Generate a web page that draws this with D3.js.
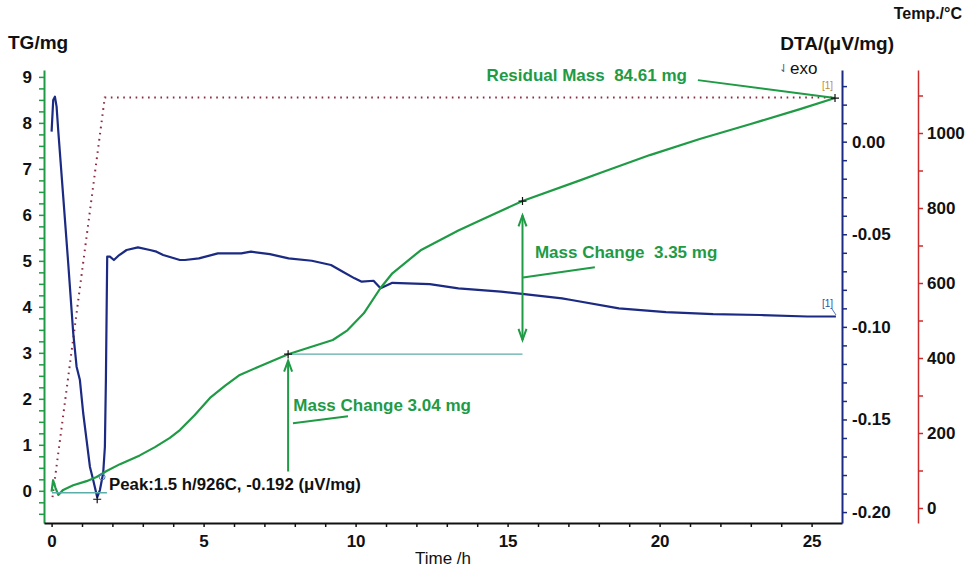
<!doctype html>
<html>
<head>
<meta charset="utf-8">
<title>TG / DTA / Temperature vs time</title>
<style>
  body { margin: 0; background: #fff; }
  svg { display: block; font-family: "Liberation Sans", Arial, sans-serif; }
</style>
</head>
<body>
<svg width="976" height="568"></svg>
<script src="https://d3js.org/d3.v7.min.js"></script>
<script>
// ---- data ----
var tgTime = [0, 0.05, 0.13, 0.22, 0.38, 0.71, 1.15, 1.48, 1.81, 2.25, 2.90, 3.40, 3.89, 4.22, 4.71, 5.21, 5.70, 6.19, 6.85, 7.78,
  8.50, 9.25, 9.73, 10.27, 10.82, 11.21, 12.14, 13.38, 14.09, 15.49, 17.38, 18.04, 19.68, 21.32, 22.97, 24.62, 25.77];
var tgMass = [-0.02, 0.23, 0.06, -0.09, 0.02, 0.12, 0.21, 0.30, 0.43, 0.58, 0.77, 0.95, 1.15, 1.32, 1.65, 2.02, 2.28, 2.52, 2.71, 2.97,
  3.12, 3.28, 3.49, 3.86, 4.41, 4.73, 5.23, 5.66, 5.88, 6.30, 6.75, 6.91, 7.30, 7.65, 7.97, 8.30, 8.54];

var dtaTime = [0, 0.053, 0.109, 0.164, 0.217, 0.382, 0.546, 0.711, 0.822, 0.931, 1.039, 1.151, 1.26, 1.368, 1.5, 1.589, 1.697, 1.753,
  1.786, 1.829, 1.918, 2.049, 2.19, 2.467, 2.84, 3.234, 3.45, 3.67, 4.22, 4.385, 4.845, 5.47, 6.24, 6.556, 7.18, 7.796, 8.56, 9.19,
  9.58, 9.967, 10.2, 10.59, 10.82, 11.21, 12.44, 13.38, 14.78, 15.55, 16.79, 17.1, 18.66, 20.21, 21.76, 23.3, 24.86, 25.8];
var dtaValue = [0.0054, 0.0225, 0.0243, 0.0189, 0.0063, -0.0297, -0.0655, -0.1033, -0.1215, -0.1287, -0.1465, -0.1611, -0.1755,
  -0.1827, -0.192, -0.1881, -0.1789, -0.1647, -0.1287, -0.0621, -0.0621, -0.0639, -0.0617, -0.0585, -0.0571, -0.0585, -0.0594,
  -0.0612, -0.0639, -0.0639, -0.063, -0.0603, -0.0603, -0.0594, -0.0607, -0.063, -0.0643, -0.0666, -0.0702, -0.0738, -0.0756,
  -0.0751, -0.0792, -0.0762, -0.0769, -0.0792, -0.081, -0.0823, -0.0846, -0.0855, -0.09, -0.092, -0.0931, -0.0936, -0.0944, -0.0944];

var tempTime = [0.03, 1.75, 25.77];
var tempValue = [29, 1095, 1095];

// tick values
var tgTicks = d3.range(-2, 37).map(function(i) { return i / 4; });
var dtaTicks = d3.range(-20, 4).map(function(i) { return i / 100; });
var tempTicks = d3.range(0, 12).map(function(i) { return i * 100; });
var timeTicks = d3.range(0, 26);

// annotations (time h, mass mg)
var crossTime = [7.78, 15.49, 25.77];
var crossMass = [2.97, 6.30, 8.54];
var peakTime = 1.5, peakDta = -0.192;

var svg = d3.select("svg");
var green = "#1f9a45", navy = "#1b2a82", red = "#cc2b2b", teal = "#5aaea8", maroon = "#8c2a40";

var x = d3.scaleLinear().domain([-0.25, 26]).range([44, 842]);
var yTG = d3.scaleLinear().domain([-0.7, 9.15]).range([523, 70]);
var yDTA = d3.scaleLinear().domain([-0.2059, 0.0387]).range([523, 70]);
var yT = d3.scaleLinear().domain([-40, 1168]).range([523, 70]);

function styleAxis(g, col, w) {
  g.select(".domain").attr("stroke", col).attr("stroke-width", w);
  g.selectAll(".tick line").attr("stroke", col).attr("stroke-width", 1.5);
  g.selectAll(".tick text").attr("fill", "#111").attr("font-size", 17).attr("font-weight", "bold")
    .attr("font-family", "'Liberation Sans', Arial, sans-serif");
}

// left TG axis
var gL = svg.append("g").attr("transform", "translate(44,0)")
  .call(d3.axisLeft(yTG).tickValues(tgTicks).tickSize(5).tickSizeOuter(0).tickPadding(7)
    .tickFormat(function(d) { return d % 1 === 0 ? d : ""; }));
styleAxis(gL, green, 2);

// bottom time axis
var gB = svg.append("g").attr("transform", "translate(0,523)")
  .call(d3.axisBottom(x).tickValues(timeTicks).tickSize(4).tickSizeOuter(0).tickPadding(8)
    .tickFormat(function(d) { return d % 5 === 0 ? d : ""; }));
styleAxis(gB, "#111", 2);

// DTA axis
var gR = svg.append("g").attr("transform", "translate(842,0)")
  .call(d3.axisRight(yDTA).tickValues(dtaTicks).tickSize(5).tickSizeOuter(0).tickPadding(5)
    .tickFormat(function(d) { return Math.round(d * 100) % 5 === 0 ? d.toFixed(2) : ""; }));
styleAxis(gR, navy, 2);

// temperature axis
var gT = svg.append("g").attr("transform", "translate(918,0)")
  .call(d3.axisRight(yT).tickValues(tempTicks).tickSize(5).tickSizeOuter(0).tickPadding(4)
    .tickFormat(function(d) { return d % 200 === 0 ? d : ""; }));
styleAxis(gT, red, 1.5);

// titles
function label(txt, px, py, size, weight, anchor, col) {
  return svg.append("text").attr("x", px).attr("y", py).attr("font-size", size).attr("font-weight", weight)
    .attr("text-anchor", anchor || "start").attr("fill", col || "#111").style("white-space", "pre").text(txt);
}
label("TG/mg", 8, 49, 19, "bold");
label("DTA/(\u03bcV/mg)", 894, 50, 19, "bold", "end");
label("Temp./\u00b0C", 962, 19, 16, "bold", "end");
label("Time /h", 443, 564, 17, "normal", "middle");
label("exo", 790, 74, 17, "normal");
label("\u21c3", 779, 72, 11, "normal", "start", "#556");

// curves
var tempLine = d3.line().x(function(d) { return x(d[0]); }).y(function(d) { return yT(d[1]); });
svg.append("path").datum(d3.zip(tempTime, tempValue)).attr("d", tempLine)
  .attr("fill", "none").attr("stroke", maroon).attr("stroke-width", 2).attr("stroke-dasharray", "1.6,4.6");

var dtaLine = d3.line().x(function(d) { return x(d[0]); }).y(function(d) { return yDTA(d[1]); });
svg.append("path").datum(d3.zip(dtaTime, dtaValue)).attr("d", dtaLine)
  .attr("fill", "none").attr("stroke", navy).attr("stroke-width", 2.2).attr("stroke-linejoin", "round");

var tgLine = d3.line().x(function(d) { return x(d[0]); }).y(function(d) { return yTG(d[1]); });
svg.append("path").datum(d3.zip(tgTime, tgMass)).attr("d", tgLine)
  .attr("fill", "none").attr("stroke", green).attr("stroke-width", 2.2).attr("stroke-linejoin", "round");

// peak baseline + step level line
svg.append("line").attr("x1", x(0.01)).attr("x2", x(1.82)).attr("y1", yDTA(-0.1895)).attr("y2", yDTA(-0.1895))
  .attr("stroke", teal).attr("stroke-width", 1.5);
svg.append("line").attr("x1", x(crossTime[0])).attr("x2", x(crossTime[1])).attr("y1", yTG(crossMass[0])).attr("y2", yTG(crossMass[0]))
  .attr("stroke", teal).attr("stroke-width", 1.3);

// arrows
function arrowHead(px, py, dir) {
  svg.append("polyline")
    .attr("points", [[px - 4, py + 11 * dir], [px, py], [px + 4, py + 11 * dir]].map(function(p) { return p.join(","); }).join(" "))
    .attr("fill", "none").attr("stroke", green).attr("stroke-width", 2);
}
var a1x = x(crossTime[0]), a1top = yTG(2.83), a1bot = yTG(0.42);
svg.append("line").attr("x1", a1x).attr("x2", a1x).attr("y1", a1top).attr("y2", a1bot).attr("stroke", green).attr("stroke-width", 2);
arrowHead(a1x, a1top, 1);

var a2x = x(crossTime[1]), a2top = yTG(5.99), a2bot = yTG(3.28);
svg.append("line").attr("x1", a2x).attr("x2", a2x).attr("y1", a2top).attr("y2", a2bot).attr("stroke", green).attr("stroke-width", 2);
arrowHead(a2x, a2top, 1);
arrowHead(a2x, a2bot, -1);

// leader lines
function leader(t1, m1, t2, m2) {
  svg.append("line").attr("x1", x(t1)).attr("y1", yTG(m1)).attr("x2", x(t2)).attr("y2", yTG(m2))
    .attr("stroke", green).attr("stroke-width", 2);
}
leader(7.94, 1.47, 9.75, 1.62);
leader(15.51, 4.64, 17.87, 4.86);
leader(21.26, 8.93, 25.77, 8.54);

// annotation text
label("Mass Change 3.04 mg", x(7.95), yTG(1.73), 17, "bold", "start", green);
label("Mass Change  3.35 mg", x(15.9), yTG(5.06), 17, "bold", "start", green);
label("Residual Mass  84.61 mg", x(14.31), yTG(8.91), 17, "bold", "start", green);
label("Peak:1.5 h/926C, -0.192 (\u03bcV/mg)", x(1.89), yDTA(-0.188), 16.8, "bold", "start", "#111");

// cross markers
function cross(px, py) {
  svg.append("path").attr("d", "M" + (px - 4) + "," + py + "h8M" + px + "," + (py - 4) + "v8")
    .attr("stroke", "#111").attr("stroke-width", 1.2);
}
crossTime.forEach(function(t, i) { cross(x(t), yTG(crossMass[i])); });
cross(x(peakTime), yDTA(peakDta) + 2);

// small peak marker
svg.append("circle").attr("cx", x(1.66)).attr("cy", yDTA(-0.181)).attr("r", 3)
  .attr("fill", "none").attr("stroke", "#4a7bc0").attr("stroke-width", 1);

// curve tags
label("[1]", 822, 89, 10, "normal", "start", "#c08a40");
label("[1]", 822, 307, 10, "normal", "start", "#3050a0");
svg.append("line").attr("x1", 832).attr("y1", 309).attr("x2", 836).attr("y2", 315).attr("stroke", "#3050a0").attr("stroke-width", 0.8);
</script>
</body>
</html>
